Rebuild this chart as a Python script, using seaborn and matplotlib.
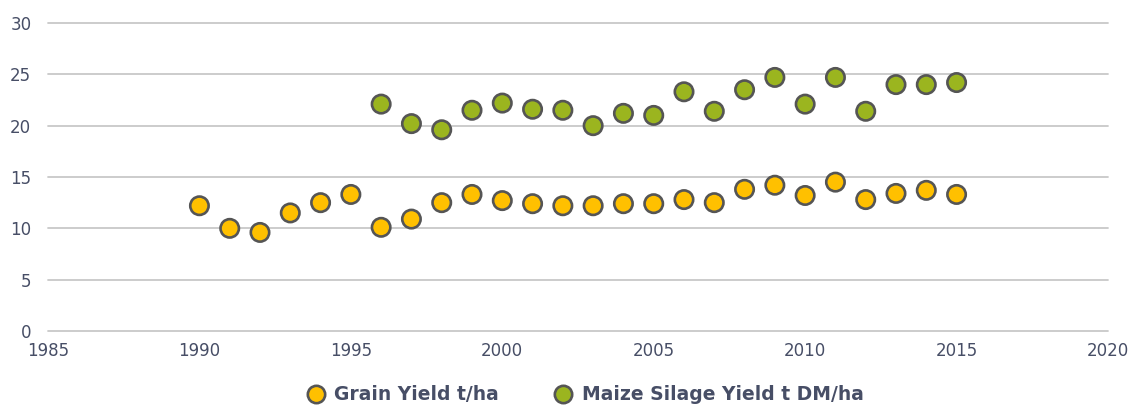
import pandas as pd
import seaborn as sns
import matplotlib.pyplot as plt

# values
grain_years = list(range(1990, 2016))
grain_yield = [12.2, 10.0, 9.6, 11.5, 12.5, 13.3, 10.1, 10.9, 12.5, 13.3,
               12.7, 12.4, 12.2, 12.2, 12.4, 12.4, 12.8, 12.5, 13.8, 14.2,
               13.2, 14.5, 12.8, 13.4, 13.7, 13.3]

maize_years = list(range(1996, 2016))
maize_yield = [22.1, 20.2, 19.6, 21.5, 22.2, 21.6, 21.5, 20.0, 21.2, 21.0,
               23.3, 21.4, 23.5, 24.7, 22.1, 24.7, 21.4, 24.0, 24.0, 24.2]

series_names = ['Grain Yield t/ha', 'Maize Silage Yield t DM/ha']
x_ticks = [1985, 1990, 1995, 2000, 2005, 2010, 2015, 2020]
y_ticks = [0, 5, 10, 15, 20, 25, 30]

df = pd.concat([
    pd.DataFrame({'year': grain_years, 'value': grain_yield, 'series': series_names[0]}),
    pd.DataFrame({'year': maize_years, 'value': maize_yield, 'series': series_names[1]}),
])

sns.set_theme(style='white')
plt.rcParams['font.family'] = ['DejaVu Sans']
text_col = '#474e66'

fig = plt.figure(figsize=(11.29, 4.09), dpi=100)
ax = fig.add_axes([48 / 1129, 1 - 331 / 409, (1108 - 48) / 1129, (331 - 23) / 409])

palette = {series_names[0]: '#FFC000', series_names[1]: '#9BB51F'}
sns.scatterplot(data=df, x='year', y='value', hue='series', palette=palette,
                s=175, edgecolor='#555555', linewidth=1.9, ax=ax, zorder=3,
                legend=False)

ax.set_xlim(1985, 2020)
ax.set_ylim(0, 30)
ax.set_xticks(x_ticks)
ax.set_yticks(y_ticks)
ax.yaxis.grid(True, color='#c8c8c8', linewidth=1.3)
ax.xaxis.grid(False)
for gl in ax.get_ygridlines():
    gl.set_clip_on(False)
for s in ax.spines.values():
    s.set_visible(False)
ax.set_xlabel('')
ax.set_ylabel('')
ax.tick_params(axis='both', colors=text_col, labelsize=12, length=0)
ax.tick_params(axis='y', pad=12)
ax.tick_params(axis='x', pad=8)

handles = [plt.Line2D([], [], marker='o', linestyle='', markersize=12.5,
                      markerfacecolor=palette[n], markeredgecolor='#555555',
                      markeredgewidth=1.9) for n in series_names]
leg = fig.legend(handles, series_names, loc='lower center', ncol=2,
                 bbox_to_anchor=(0.514, -0.03), frameon=False,
                 handletextpad=0.0, columnspacing=2.4,
                 prop={'size': 13.5, 'weight': 'bold'})
for t in leg.get_texts():
    t.set_color(text_col)

fig.savefig('out.png', dpi=100)
